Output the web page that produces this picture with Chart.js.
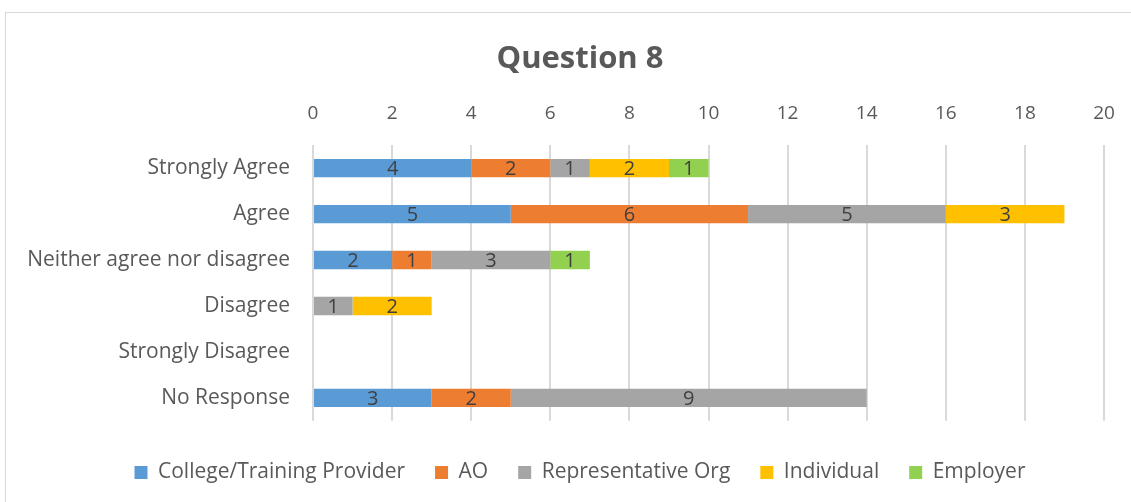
<!DOCTYPE html>
<html>
<head>
<meta charset="utf-8">
<script src="https://cdn.jsdelivr.net/npm/chart.js@4"></script>
<style>
  html, body { margin: 0; padding: 0; background: #fff; overflow: hidden; }
  #frame { position: absolute; left: 5px; top: 12px; width: 1160px; height: 500px; border: 1px solid #d9d9d9; }
  #wrap { position: absolute; left: 0; top: 0; width: 1148px; height: 488px; }
</style>
</head>
<body>
<div id="frame"><div id="wrap"><canvas id="chartQ8"></canvas></div></div>
<script>
var categories = ['Strongly Agree', 'Agree', 'Neither agree nor disagree', 'Disagree', 'Strongly Disagree', 'No Response'];
var college = [4, 5, 2, 0, 0, 3];
var ao = [2, 6, 1, 0, 0, 2];
var repOrg = [1, 5, 3, 1, 0, 9];
var individual = [2, 3, 0, 2, 0, 0];
var employer = [1, 0, 1, 0, 0, 0];
var xTicks = [0, 2, 4, 6, 8, 10, 12, 14, 16, 18, 20];

const fontFam = '"Open Sans", sans-serif';

// draw the numbers in the middle of each segment
const barLabels = {
	id: 'barLabels',
	afterDatasetsDraw: function(chart) {
		const c = chart.ctx;
		c.save();
		c.font = '20px ' + fontFam;
		c.fillStyle = '#404040';
		c.textAlign = 'center';
		c.textBaseline = 'middle';
		chart.data.datasets.forEach(function(ds, i) {
			const meta = chart.getDatasetMeta(i);
			meta.data.forEach(function(bar, k) {
				if (!ds.data[k]) { return; }
				c.fillText(ds.data[k], (bar.x + bar.base) / 2, bar.y + 1);
			});
		});
		c.restore();
	}
};

function ds(label, data, color) {
	return {
		label: label,
		data: data,
		backgroundColor: color,
		borderWidth: 0,
		barPercentage: 0.4,
		categoryPercentage: 1
	};
}

const ctx = document.getElementById('chartQ8').getContext('2d');
var chartQ8 = new Chart(ctx, {
	type: 'bar',
	data: {
		labels: categories,
		datasets: [
			ds('College/Training Provider', college, '#5b9bd5'),
			ds('AO', ao, '#ed7d31'),
			ds('Representative Org', repOrg, '#a5a5a5'),
			ds('Individual', individual, '#ffc000'),
			ds('Employer', employer, '#92d050')
		]
	},
	plugins: [barLabels],
	options: {
		indexAxis: 'y',
		responsive: true,
		maintainAspectRatio: false,
		animation: false,
		layout: { padding: { left: 0, right: 0, top: 0, bottom: 8 } },
		plugins: {
			title: {
				display: true,
				text: 'Question 8',
				color: '#595959',
				font: { family: fontFam, size: 31, weight: 'bold' },
				padding: { top: 28, bottom: 12 }
			},
			legend: {
				position: 'bottom',
				title: {
					display: true,
					text: '',
					font: { size: 1 },
					padding: { top: 10, bottom: 0 }
				},
				labels: {
					color: '#595959',
					font: { family: fontFam, size: 21 },
					boxWidth: 13,
					boxHeight: 13,
					padding: 30
				}
			},
			tooltip: { enabled: false }
		},
		scales: {
			x: {
				position: 'top',
				stacked: true,
				min: 0,
				max: 20,
				afterBuildTicks: function(scale) {
					scale.ticks = xTicks.map(function(v) { return { value: v }; });
				},
				ticks: {
					color: '#595959',
					font: { family: fontFam, size: 19 },
					padding: 20
				},
				grid: {
					color: '#d9d9d9',
					lineWidth: 2,
					drawTicks: false
				},
				border: { display: false },
				afterFit: function(scale) {
					scale.height = 55;
					scale.paddingLeft = 0;
					scale.paddingRight = 50;
				}
			},
			y: {
				stacked: true,
				ticks: {
					color: '#595959',
					font: { family: fontFam, size: 21 },
					padding: 15
				},
				grid: { display: false },
				border: { display: false },
				afterFit: function(scale) { scale.width = 307; }
			}
		}
	}
});
</script>
</body>
</html>
